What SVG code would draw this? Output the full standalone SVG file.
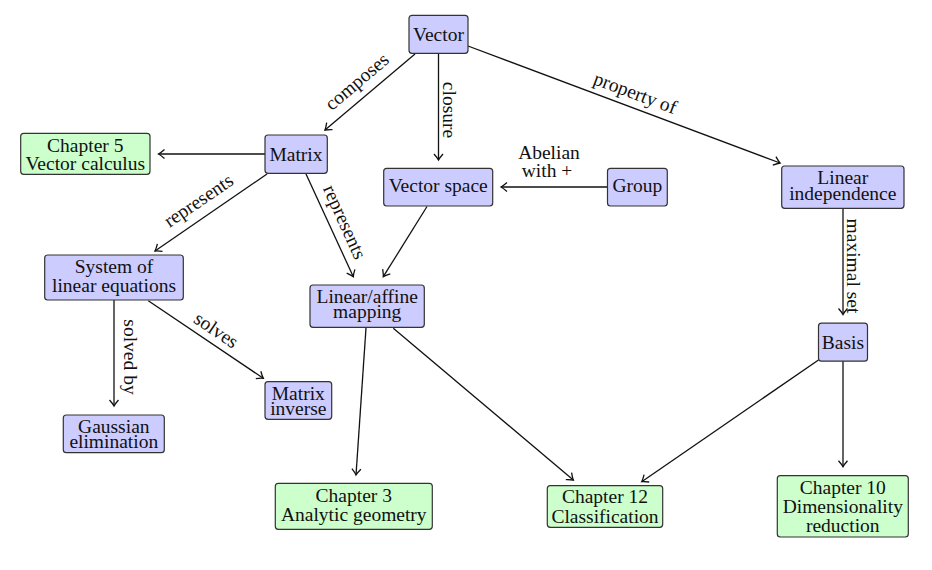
<svg xmlns="http://www.w3.org/2000/svg" width="932" height="570" viewBox="0 0 932 570">
<style>
.b{fill:#ccccff;stroke:#333;stroke-width:1.2}
.g{fill:#ccffcc;stroke:#333;stroke-width:1.2}
text{font-family:'Liberation Serif','Times New Roman','DejaVu Serif',serif;font-size:19.5px;fill:#111;text-anchor:middle}
.e{stroke:#111;stroke-width:1.3;fill:none;marker-end:url(#arr)}
</style>
<defs>
<marker id="arr" markerUnits="userSpaceOnUse" viewBox="-8 -6 10 12" refX="0" refY="0" markerWidth="10" markerHeight="12" orient="auto">
<path d="M-6,-4.5 Q-2,-1 0,0 Q-2,1 -6,4.5" fill="none" stroke="#111" stroke-width="1.3"/>
</marker>
</defs>
<rect width="932" height="570" fill="#fff"/>
<g id="edges">
<line class="e" x1="415" y1="54" x2="325" y2="130"/>
<line class="e" x1="438.5" y1="53" x2="438.5" y2="160"/>
<line class="e" x1="468" y1="46" x2="780" y2="163"/>
<line class="e" x1="607" y1="187" x2="501" y2="187"/>
<line class="e" x1="265" y1="154" x2="158.5" y2="154"/>
<line class="e" x1="267" y1="174" x2="155" y2="251"/>
<line class="e" x1="306" y1="174" x2="353.3" y2="276.7"/>
<line class="e" x1="427" y1="206.5" x2="383.3" y2="276.7"/>
<line class="e" x1="114" y1="300" x2="114" y2="406"/>
<line class="e" x1="148.3" y1="300.7" x2="263.3" y2="378.3"/>
<line class="e" x1="366" y1="328" x2="356" y2="475"/>
<line class="e" x1="393.3" y1="328.3" x2="573.3" y2="480"/>
<line class="e" x1="818.5" y1="360" x2="641.7" y2="481.7"/>
<line class="e" x1="843" y1="361" x2="843" y2="466.7"/>
<line class="e" x1="843" y1="208.3" x2="843" y2="314.5"/>
<text x="361" y="86.5" transform="rotate(-40.2 361 86.5)">composes</text>
<text x="443" y="110" transform="rotate(90 443 110)">closure</text>
<text x="633" y="99" transform="rotate(20.6 633 99)">property of</text>
<text x="548"><tspan x="549" y="159">Abelian</tspan><tspan x="547" y="176.7">with +</tspan></text>
<text x="202.2" y="205.8" transform="rotate(-34.2 202.2 205.8)">represents</text>
<text x="338.9" y="224.6" transform="rotate(65.7 338.9 224.6)">represents</text>
<text x="123.5" y="357" transform="rotate(90 123.5 357)">solved by</text>
<text x="212.7" y="335.4" transform="rotate(34 212.7 335.4)">solves</text>
<text x="847" y="266" transform="rotate(90 847 266)">maximal set</text>
</g>
<g id="vector"><rect class="b" x="409" y="15.3" width="59" height="38" rx="3"/><text x="438.5" y="41">Vector</text></g>
<g id="matrix"><rect class="b" x="265" y="135" width="62.3" height="38.3" rx="3"/><text x="296" y="160.7">Matrix</text></g>
<g id="vectorspace"><rect class="b" x="383.7" y="168.3" width="109" height="37.7" rx="3"/><text x="438.2" y="191.7">Vector space</text></g>
<g id="group"><rect class="b" x="607.5" y="168.3" width="59.8" height="37.7" rx="3"/><text x="637.4" y="192.3">Group</text></g>
<g id="linindep"><rect class="b" x="781.7" y="166" width="122.3" height="42.3" rx="3"/><text><tspan x="842.8" y="184.3">Linear</tspan><tspan x="842.8" y="200">independence</tspan></text></g>
<g id="basis"><rect class="b" x="818.5" y="323.2" width="49" height="38" rx="3"/><text x="843" y="348.7">Basis</text></g>
<g id="ch5"><rect class="g" x="20.7" y="133.3" width="129.3" height="41" rx="3"/><text><tspan x="85.3" y="151.7">Chapter 5</tspan><tspan x="85.3" y="170">Vector calculus</tspan></text></g>
<g id="system"><rect class="b" x="44.7" y="255" width="138.6" height="45" rx="3"/><text><tspan x="114" y="272.7">System of</tspan><tspan x="114" y="291.7">linear equations</tspan></text></g>
<g id="mapping"><rect class="b" x="310" y="285" width="114.3" height="42.3" rx="3"/><text><tspan x="367.2" y="303.3">Linear/affine</tspan><tspan x="367.2" y="318.3">mapping</tspan></text></g>
<g id="gaussian"><rect class="b" x="63.3" y="415" width="101" height="37.7" rx="3"/><text><tspan x="113.8" y="432.7">Gaussian</tspan><tspan x="113.8" y="448.3">elimination</tspan></text></g>
<g id="inverse"><rect class="b" x="265" y="381.7" width="66.7" height="37.6" rx="3"/><text><tspan x="298.3" y="400">Matrix</tspan><tspan x="298.3" y="415">inverse</tspan></text></g>
<g id="ch3"><rect class="g" x="275.3" y="483.3" width="157" height="46" rx="3"/><text><tspan x="353.8" y="501.7">Chapter 3</tspan><tspan x="353.8" y="520.7">Analytic geometry</tspan></text></g>
<g id="ch12"><rect class="g" x="547.3" y="485.7" width="115.4" height="41.6" rx="3"/><text><tspan x="605" y="503.3">Chapter 12</tspan><tspan x="605" y="522.7">Classification</tspan></text></g>
<g id="ch10"><rect class="g" x="777.3" y="475.7" width="131" height="61.3" rx="3"/><text><tspan x="842.8" y="494.3">Chapter 10</tspan><tspan x="842.8" y="513.3">Dimensionality</tspan><tspan x="842.8" y="532.3">reduction</tspan></text></g>
</svg>
